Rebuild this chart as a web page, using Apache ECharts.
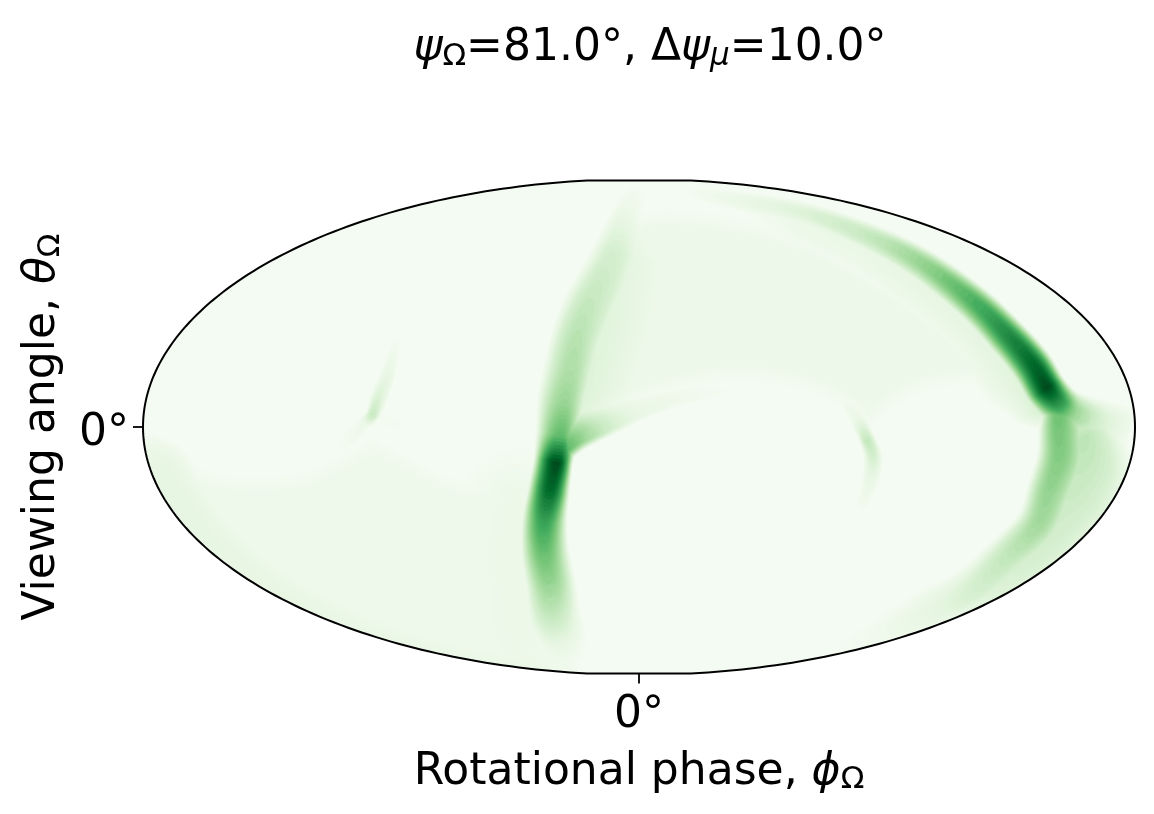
<!DOCTYPE html>
<html><head><meta charset="utf-8">
<style>html,body{margin:0;padding:0;background:#fff}#c{width:1154px;height:814px}</style>
<script src="https://cdn.jsdelivr.net/npm/echarts@6/dist/echarts.min.js"></script>
</head><body><div id="c"></div>
<script>
// ---- Text ----
const titleText = '{i|ψ}{s|Ω}=81.0°, Δ{i|ψ}{m|μ}=10.0°';
const xName = 'Rotational phase, {i|ϕ}{s|Ω}';
const yName = 'Viewing angle, {i|θ}{s|Ω}';
const xTicks = [0];
const yTicks = [0];
// ---- Projection plane extents (Mollweide plane units, origin at phase 0 / angle 0) ----
const planeX = 496, planeY = 246.5, ellipseB = 247.8;
// ---- Colour map: matplotlib Greens ----
const greens = ['#f7fcf5','#e5f5e0','#c7e9c0','#a1d99b','#74c476','#41ab5d','#238b45','#006d2c','#00441b'];
const floorLevel = .018;
// ---- Read-off intensity ridges: [x, y, reach on left of travel, reach on right of travel, intensity] ----
const ridgeUpperArc = [[51,235,6,8,.03],[101,227,10,13,.09],[168,214,11,15,.17],[234,190,13,18,.28],[284,164,15,20,.43],[334,127,17,22,.62],[368,94,18,24,.77],[394,64,19,25,.9],[409,39,19,25,1],[423,22,20,24,.7],[436,13,22,22,.42],[461,5,24,22,.2],[491,-1,24,24,.06]];
const ridgeLowerArc = [[419,22,20,16,.55],[419,-3,30,20,.5],[419,-31,32,22,.47],[409,-65,30,22,.42],[398,-98,26,22,.38],[368,-131,24,24,.28],[334,-165,22,28,.2],[294,-188,16,32,.12],[234,-213,10,24,.05],[180,-232,5,10,.01]];
const ridgeRimGlow = [[425,12,15,15,.1],[440,-10,40,20,.3],[440,-35,60,20,.27],[425,-63,70,20,.25],[395,-113,62,20,.21],[355,-158,50,22,.17],[310,-193,36,24,.1],[265,-218,20,18,.03],[210,-232,8,8,.01]];
const ridgeLeftArc = [[1,237,14,12,.03],[-12,219,20,14,.08],[-26,177,34,21,.2],[-39,147,35,24,.24],[-51,122,34,26,.27],[-62,90,30,27,.31],[-69,52,25,29,.35],[-74,24,22,29,.41],[-78,-8,18,26,.56],[-82,-35,16,24,1],[-89,-65,20,23,.9],[-95,-95,24,23,.68],[-95,-125,26,24,.55],[-90,-158,28,25,.42],[-86,-191,30,27,.26],[-77,-218,30,24,.11],[-67,-238,20,14,.03]];
const ridgeBubbleEdge = [[-77,-25,26,12,.65],[-61,-14,30,11,.47],[-44,-7,32,9,.32],[-24,2,30,9,.19],[1,13,24,8,.1],[41,27,16,7,.065],[91,36,10,5,.02]];
const ridgeLeftGlow = [[-12,224,20,5,.03],[-29,177,80,8,.13],[-49,117,88,8,.15],[-64,57,80,8,.16],[-74,17,50,6,.17],[-78,-15,12,4,.04]];
const ridgeUpperGlow = [[100,228,5,15,.03],[161,215,6,50,.08],[234,187,6,50,.1],[334,122,6,58,.13],[391,59,6,60,.16],[413,22,5,42,.2],[425,-5,4,10,.04]];
const causticLeft = [[-242,87,5,5,.03],[-252,50,9,9,.12],[-261,30,11,8,.17],[-267,12,8,7,.26],[-275,2,6,9,.08],[-289,-13,9,12,.05],[-300,-25,6,8,.02]];
const causticLeftWing = [[-267,12,10,12,.04],[-242,2,8,12,.03],[-225,-10,5,8,.015]];
const causticRight = [[206,25,6,6,.05],[218,9,9,9,.09],[228,-13,9,8,.28],[234,-31,10,10,.2],[231,-55,10,10,.1],[221,-83,7,7,.03]];
const rimLowerLeft = [[-494,-8,15,15,.03],[-480,-40,35,55,.12],[-410,-130,35,60,.11],[-310,-195,35,55,.1],[-190,-235,30,45,.095],[-100,-243,30,40,.08],[-60,-246,20,20,.02]];
const glowLeftOfArc = [[-115,-20,20,30,.02],[-120,-60,60,70,.07],[-125,-130,65,75,.075],[-120,-230,60,70,.07]];
const ridges = [ridgeUpperArc,ridgeLowerArc,ridgeRimGlow,ridgeLeftArc,ridgeBubbleEdge,ridgeLeftGlow,ridgeUpperGlow,causticLeft,causticLeftWing,causticRight,rimLowerLeft,glowLeftOfArc];
// ---- Read-off plateau regions: outline vertices and intensity ----
const plateauUpper = [[-14,227],[61,227],[161,205],[241,165],[321,109],[381,49],[411,19],[401,17],[361,29],[321,35],[271,22],[241,-5],[226,-13],[206,9],[161,31],[91,39],[21,23],[-39,-5],[-69,-18],[-74,27],[-59,107],[-39,167]];
const plateauUpperLevel = .065;
const plateauLower = [[-509,-3],[-486,-8],[-432,-35],[-382,-43],[-332,-35],[-292,-15],[-267,2],[-249,-8],[-216,-25],[-182,-45],[-132,-41],[-99,-15],[-79,-28],[-79,-93],[-74,-173],[-49,-243],[-49,-263],[-509,-263]];
const plateauLowerLevel = .06;
const plateaus = [[plateauUpper,plateauUpperLevel],[plateauLower,plateauLowerLevel]];
const plateauSoftness = 24;
// ---- Contour levels drawn, lightest first ----
const levels = [.025,.03,.035,.04,.045,.05,.055,.06,.065,.07,.075,.08,.09,.1,.11,.12,.13,.14,.15,.16,.17,.18,.19,.2,.22,.24,.26,.28,.3,.32,.34,.36,.38,.4,.42,.44,.46,.48,.5,.52,.54,.56,.58,.6,.62,.64,.66,.68,.7,.72,.74,.76,.78,.8,.82,.84,.86,.88,.9,.92,.94,.96,.98,1];

function levelColor(v){
  const t = Math.min(1,Math.max(0,v))*(greens.length-1), i = Math.min(greens.length-2,Math.floor(t)), f = t-i;
  const hex = s=>[1,3,5].map(k=>parseInt(s.substr(k,2),16));
  const a = hex(greens[i]), b = hex(greens[i+1]);
  return 'rgb('+a.map((c,k)=>Math.round(c+(b[k]-c)*f)).join(',')+')';
}
// smooth a read-off ridge for drawing (same role as a line's smooth option)
function smoothRidge(r){
  const out=[];
  for(let i=0;i<r.length-1;i++){
    const p0=r[Math.max(0,i-1)],p1=r[i],p2=r[i+1],p3=r[Math.min(r.length-1,i+2)];
    for(let k=0;k<8;k++){
      const t=k/8,t2=t*t,t3=t2*t,cr=j=>.5*(2*p1[j]+(p2[j]-p0[j])*t+(2*p0[j]-5*p1[j]+4*p2[j]-p3[j])*t2+(3*p1[j]-p0[j]-3*p2[j]+p3[j])*t3);
      const lin=j=>p1[j]+(p2[j]-p1[j])*t;
      out.push([cr(0),cr(1),lin(2),lin(3),lin(4)]);
    }
  }
  out.push(r[r.length-1].slice());
  return out.map((p,i)=>{
    const a=out[Math.max(0,i-1)],b=out[Math.min(out.length-1,i+1)];
    const dx=b[0]-a[0],dy=b[1]-a[1],d=Math.hypot(dx,dy)||1;
    return p.concat([-dy/d,dx/d]);
  });
}
const smoothRidges = ridges.map(smoothRidge);
function ridgePolys(pts,L){
  const polys=[];let run=[];
  const flush=()=>{
    if(run.length>1){
      const left=[],right=[];
      run.forEach(p=>{
        const f=Math.pow(Math.max(0,1-L/p[4]),.5);
        left.push([p[0]+p[5]*p[2]*f,p[1]+p[6]*p[2]*f]);
        right.push([p[0]-p[5]*p[3]*f,p[1]-p[6]*p[3]*f]);
      });
      polys.push(left.concat(right.reverse()));
    }
    run=[];
  };
  pts.forEach(p=>{ if(p[4]>=L) run.push(p); else flush(); });
  flush();
  return polys;
}
function roundCorners(pts){
  let cur=pts;
  for(let n=0;n<3;n++){
    const next=[];
    cur.forEach((p,i)=>{
      const q=cur[(i+1)%cur.length];
      next.push([.75*p[0]+.25*q[0],.75*p[1]+.25*q[1]],[.25*p[0]+.75*q[0],.25*p[1]+.75*q[1]]);
    });
    cur=next;
  }
  return cur;
}
const roundedPlateaus = plateaus.map(([pts,v])=>{
  const r=roundCorners(pts);
  let area=0;
  r.forEach((p,i)=>{const q=r[(i+1)%r.length];area+=p[0]*q[1]-q[0]*p[1];});
  const sgn=area>0?1:-1;
  const norm=r.map((p,i)=>{
    const a=r[(i-3+r.length)%r.length],b=r[(i+3)%r.length];
    const dx=b[0]-a[0],dy=b[1]-a[1],d=Math.hypot(dx,dy)||1;
    return [-sgn*dy/d,sgn*dx/d];
  });
  return {r,norm,v};
});
function plateauPoly(pl,L){
  if(L>pl.v) return null;
  const d=plateauSoftness*L/pl.v;
  return pl.r.map((p,i)=>[p[0]+pl.norm[i][0]*d,p[1]+pl.norm[i][1]*d]);
}
function outline(){
  const pts=[];
  for(let i=0;i<=360;i++){
    const a=i*Math.PI/180;
    pts.push([planeX*Math.cos(a),Math.max(-planeY,Math.min(planeY,ellipseB*Math.sin(a)))]);
  }
  return pts;
}
const outlinePts = outline();
const toPx = (api,pts)=>pts.map(p=>api.coord(p));

const mono='"DejaVu Sans"';
function rich(size){return {
  i:{fontFamily:mono,fontStyle:'italic',fontSize:size,color:'#000'},
  s:{fontFamily:mono,fontSize:Math.round(size*.7),color:'#000',padding:[Math.round(size*.34),0,0,0]},
  m:{fontFamily:mono,fontStyle:'italic',fontSize:Math.round(size*.7),color:'#000',padding:[Math.round(size*.34),0,0,0]}
};}
const hiddenLine={show:true,onZero:false,lineStyle:{color:'rgba(0,0,0,0)'}};
const chart=echarts.init(document.getElementById('c'),null,{renderer:'canvas'});
chart.setOption({
  animation:false,
  backgroundColor:'#fff',
  title:{text:titleText,left:645,top:21,textAlign:'center',textStyle:{fontFamily:mono,fontWeight:'normal',fontSize:44,color:'#000',rich:rich(44)}},
  grid:{left:143,right:19,top:180.5,height:493,outerBoundsMode:'none'},
  xAxis:{type:'value',min:-planeX,max:planeX,splitLine:{show:false},axisLine:hiddenLine,
    axisTick:{show:true,length:10,lineStyle:{color:'#000',width:1.8},customValues:xTicks},
    axisLabel:{show:true,margin:20,fontFamily:mono,fontSize:44,color:'#000',customValues:xTicks,formatter:v=>v+'°'},
    name:xName,nameLocation:'middle',nameGap:76,nameTextStyle:{fontFamily:mono,fontSize:44,color:'#000',rich:rich(44)}},
  yAxis:{type:'value',min:-planeY,max:planeY,splitLine:{show:false},axisLine:hiddenLine,
    axisTick:{show:true,length:10,lineStyle:{color:'#000',width:1.8},customValues:yTicks},
    axisLabel:{show:true,margin:14,color:'#000',customValues:yTicks,formatter:v=>'{z|'+v+'°}',
      rich:{z:{fontFamily:mono,fontSize:44,color:'#000',padding:[14,0,0,0]}}},
    name:yName,nameLocation:'middle',nameGap:77,nameTextStyle:{fontFamily:mono,fontSize:44,color:'#000',rich:rich(44)}},
  series:[
    {type:'custom',silent:true,clip:false,coordinateSystem:'cartesian2d',z:2,
     encode:{x:[],y:[]},
     data:[floorLevel].concat(levels).map(L=>[L]),
     renderItem(params,api){
       const L=api.value(0),fill=levelColor(L),children=[];
       const clip=toPx(api,outlinePts);
       if(L===floorLevel){
         return {type:'polygon',shape:{points:clip},style:{fill}};
       }
       roundedPlateaus.forEach(pl=>{
         const poly=plateauPoly(pl,L);
         if(poly) children.push({type:'polygon',shape:{points:toPx(api,poly)},style:{fill}});
       });
       smoothRidges.forEach(r=>ridgePolys(r,L).forEach(poly=>{
         children.push({type:'polygon',shape:{points:toPx(api,poly)},style:{fill}});
       }));
       return {type:'group',clipPath:{type:'polygon',shape:{points:clip}},children};
     }},
    {type:'custom',silent:true,clip:false,coordinateSystem:'cartesian2d',z:3,
     encode:{x:[],y:[]},
     data:[[0]],
     renderItem(params,api){
       return {type:'polygon',shape:{points:toPx(api,outlinePts)},style:{fill:'none',stroke:'#000',lineWidth:2}};
     }}
  ]
});
</script></body></html>
